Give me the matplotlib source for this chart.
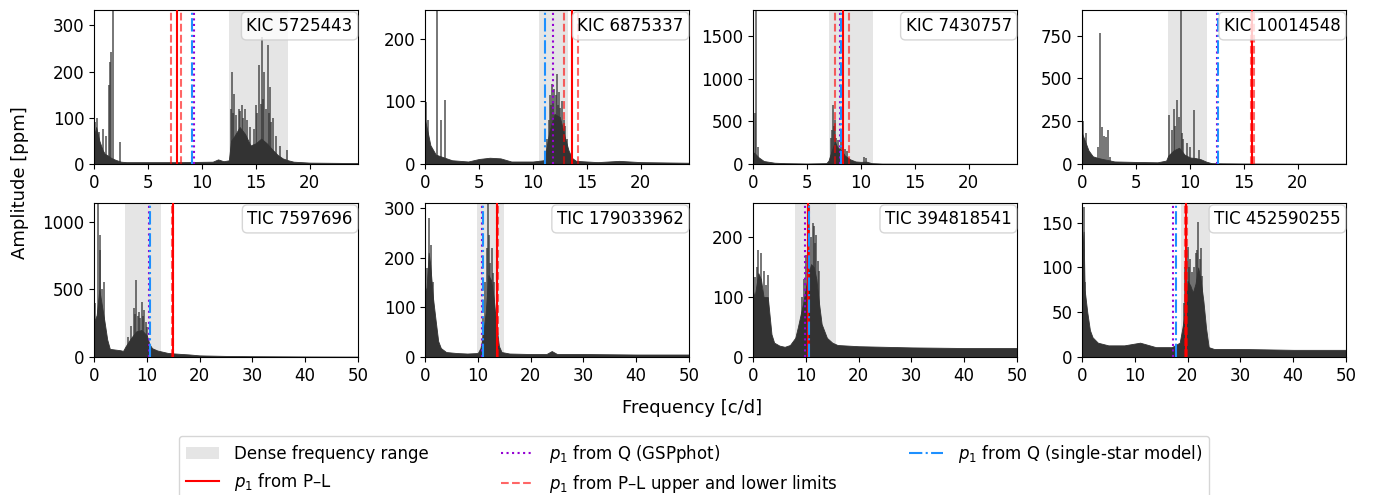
import matplotlib
matplotlib.use("Agg")
import matplotlib.pyplot as plt
from matplotlib.patches import Patch
from matplotlib.lines import Line2D

plt.rcParams['font.family'] = ['DejaVu Sans']

# ---------------- data ----------------
names = ["KIC 5725443", "KIC 6875337", "KIC 7430757", "KIC 10014548",
         "TIC 7597696", "TIC 179033962", "TIC 394818541", "TIC 452590255"]
xmax = [24.47, 24.47, 24.47, 24.47, 50, 50, 50, 50]
ymax = [333, 246, 1805, 900, 1140, 310, 257, 172]
yticks = [[0, 100, 200, 300], [0, 100, 200], [0, 500, 1000, 1500], [0, 250, 500, 750],
          [0, 500, 1000], [0, 100, 200, 300], [0, 100, 200], [0, 50, 100, 150]]
xticks_top = [0, 5, 10, 15, 20]
xticks_bot = [0, 10, 20, 30, 40, 50]

dense_lo = [12.5, 10.6, 7.04, 7.93, 5.9, 9.9, 8.0, 18.8]
dense_hi = [18.0, 13.3, 11.08, 11.6, 12.7, 14.9, 15.7, 24.3]
p1_pl = [7.69, 13.6, 8.36, 15.8, 14.9, 13.7, 10.5, 19.75]
p1_pl_lo = [7.13, 12.87, 7.6, 15.65, 14.8, 13.6, 10.4, 19.6]
p1_pl_hi = [8.02, 14.2, 8.86, 15.95, 15.0, 13.8, 10.6, 19.9]
p1_gsp = [9.29, 11.9, 8.05, 12.53, 10.5, 10.8, 9.9, 17.3]
p1_single = [9.04, 11.1, 8.15, 12.62, 10.6, 10.9, 10.7, 17.8]

# spectrum envelopes (frequency, amplitude) per panel
env_f = [
    [0, 0.2, 0.5, 0.8, 1.0, 1.3, 1.6, 2.0, 2.5, 3, 5, 8, 11, 11.5, 12, 12.5, 12.7, 13, 13.5, 14, 14.5,
     15, 15.5, 16, 16.5, 17, 17.5, 18, 18.5, 20, 24.47],
    [0, 0.2, 0.5, 1.0, 1.5, 2, 2.5, 4, 5, 6, 7, 8, 10, 11, 11.2, 11.5, 12, 12.5, 13, 13.3, 13.6,
     14, 16, 18, 20, 24.47],
    [0, 0.2, 0.5, 1, 2, 3, 5, 6.8, 7.0, 7.3, 7.6, 7.8, 8.0, 8.2, 8.5, 9, 9.5, 10, 10.5, 11, 12,
     15, 20, 24.47],
    [0, 0.3, 0.6, 1.0, 1.5, 2, 2.5, 3, 5, 7, 7.8, 8, 8.5, 9, 9.5, 10, 10.5, 11, 11.5, 12, 13,
     15, 20, 24.47],
    [0, 0.5, 1, 1.5, 2, 2.5, 3, 4, 5, 5.5, 6, 7, 8, 9, 10, 10.5, 11, 12, 14, 16, 18, 20, 25, 30,
     40, 50],
    [0, 0.3, 0.7, 1.0, 1.5, 2, 2.5, 3, 4, 6, 8, 10, 10.5, 11, 11.5, 12, 12.5, 13, 13.5, 14, 14.5,
     16, 20, 23, 24, 25, 30, 40, 50],
    [0, 0.3, 1, 1.5, 2, 2.8, 3.5, 4, 5, 6, 7, 8, 8.5, 9, 9.5, 10, 10.5, 11, 11.5, 12, 12.5, 13,
     14, 15, 16, 20, 30, 40, 50],
    [0, 0.3, 0.5, 1, 1.5, 2, 3, 5, 8, 11, 14, 17, 18.5, 19, 19.5, 20, 20.5, 21, 21.5, 22, 22.5,
     23, 23.5, 24, 25, 30, 40, 50],
]
env_a = [
    [60, 80, 50, 30, 22, 18, 13, 9, 5, 4, 4, 4, 5, 10, 6, 8, 50, 60, 80, 65, 40, 45, 55, 45,
     32, 20, 12, 8, 5, 3, 2],
    [70, 55, 30, 15, 12, 9, 6, 4, 8, 10, 9, 4, 4, 6, 20, 50, 80, 75, 40, 22, 10, 5, 3, 5, 3, 2],
    [140, 120, 80, 35, 15, 10, 6, 10, 40, 160, 260, 200, 180, 160, 100, 55, 30, 25, 28, 10, 5,
     4, 3, 2],
    [180, 130, 80, 45, 35, 28, 22, 15, 12, 10, 20, 50, 80, 95, 55, 38, 35, 28, 14, 5, 4,
     3, 2, 2],
    [260, 310, 500, 380, 260, 130, 60, 55, 50, 45, 80, 140, 190, 200, 160, 95, 65, 48, 30,
     24, 19, 12, 8, 6, 4, 3],
    [130, 140, 210, 185, 120, 75, 32, 18, 10, 8, 7, 8, 18, 45, 90, 165, 155, 120, 65, 22, 10,
     7, 6, 6, 12, 6, 6, 5, 5],
    [110, 100, 140, 130, 100, 100, 38, 24, 19, 17, 20, 32, 50, 70, 90, 115, 140, 155, 150,
     130, 90, 55, 32, 24, 20, 18, 16, 15, 15],
    [110, 140, 75, 50, 30, 22, 16, 13, 13, 16, 11, 11, 16, 32, 50, 85, 80, 72, 82, 100, 85,
     62, 32, 11, 9, 9, 8, 8],
]

# individual peaks (frequency, amplitude) per panel
peak_f = [
    [0.1, 0.3, 0.5, 0.8, 1.1, 1.35, 1.5, 1.6, 1.75, 2.4, 12.7, 12.8, 12.9, 13.0, 13.2, 13.4,
     13.55, 13.7, 13.85, 14.0, 14.2, 14.5, 14.8, 15.0, 15.15, 15.3, 15.45, 15.55, 15.7, 15.8,
     15.95, 16.1, 16.2, 16.3, 16.45, 16.6, 16.9, 17.2, 17.9],
    [0.1, 0.3, 1.08, 1.5, 1.9, 11.3, 11.45, 11.6, 11.7, 11.8, 11.9, 12.0, 12.1, 12.2, 12.3,
     12.4, 12.55, 12.7, 12.85, 13.0, 13.2],
    [0.15, 0.3, 0.5, 7.2, 7.3, 7.4, 7.5, 7.6, 7.7, 7.9, 8.2, 8.5, 8.7, 10.3, 10.5],
    [0.1, 0.4, 1.5, 1.67, 1.85, 2.0, 2.2, 2.4, 2.6, 8.1, 8.3, 8.5, 8.65, 8.8, 9.0, 9.17, 9.3,
     9.4, 9.7, 10.0, 10.4, 10.8],
    [0.2, 0.7, 1.1, 1.2, 1.5, 1.8, 6.5, 7.0, 7.5, 7.8, 8.0, 8.3, 8.5, 8.8, 9.0, 9.3, 9.5,
     9.8, 10.0],
    [0.3, 0.7, 1.2, 1.6, 11.0, 11.4, 11.8, 12.0, 12.2, 12.4, 12.6, 12.8, 13.0, 13.3],
    [0.3, 0.7, 1.0, 1.5, 2.0, 2.4, 2.8, 9.3, 9.7, 10.0, 10.4, 10.7, 11.0, 11.3, 11.5, 11.8,
     12.0, 12.3, 12.5],
    [0.3, 0.5, 19.3, 19.6, 20.0, 20.3, 20.5, 20.8, 21.2, 21.5, 21.8, 22.0, 22.3, 22.5, 22.8],
]
peak_a = [
    [90, 100, 70, 75, 60, 170, 221, 243, 400, 48, 120, 200, 110, 152, 105, 120, 115, 127,
     100, 120, 95, 80, 75, 127, 110, 214, 130, 275, 140, 200, 120, 257, 110, 167, 90, 100,
     60, 40, 30],
    [99, 70, 400, 70, 102, 40, 70, 110, 95, 128, 100, 120, 110, 144, 95, 115, 90, 100, 70, 60, 40],
    [600, 2000, 200, 300, 400, 686, 450, 510, 300, 280, 333, 176, 150, 78, 70],
    [250, 180, 98, 763, 215, 166, 157, 196, 39, 284, 200, 323, 220, 372, 274, 1000, 180,
     147, 120, 100, 313, 80],
    [400, 1200, 900, 790, 500, 557, 150, 230, 360, 320, 569, 300, 335, 290, 409, 300, 347,
     260, 224],
    [180, 280, 225, 150, 80, 150, 220, 400, 245, 190, 219, 170, 150, 90],
    [134, 150, 179, 173, 143, 120, 137, 100, 130, 170, 300, 254, 200, 223, 218, 190, 204,
     160, 143],
    [168, 84, 60, 100, 123, 100, 110, 95, 100, 116, 120, 151, 110, 122, 90],
]

# ---------------- layout ----------------
W, H = 1374, 495
fig = plt.figure(figsize=(W / 100, H / 100), dpi=100)
lefts = [94, 425, 753, 1082]
aw = 264
rows = [(10, 164), (203, 357)]

spec_color = "#333333"
for i in range(8):
    r, c = divmod(i, 4)
    top, bot = rows[r]
    ax = fig.add_axes([lefts[c] / W, 1 - bot / H, aw / W, (bot - top) / H])
    ax.axvspan(dense_lo[i], dense_hi[i], color="grey", alpha=0.2, lw=0, zorder=0)
    ax.fill_between(env_f[i], 0, env_a[i], color=spec_color, lw=0.6, zorder=1)
    ax.vlines(peak_f[i], 0, peak_a[i], color=spec_color, lw=1.1, alpha=0.85, zorder=1)
    ax.axvline(p1_pl_lo[i], color="red", ls="--", lw=1.5, alpha=0.6, zorder=3)
    ax.axvline(p1_pl_hi[i], color="red", ls="--", lw=1.5, alpha=0.6, zorder=3)
    ax.axvline(p1_pl[i], color="red", ls="-", lw=1.5, zorder=3)
    ax.axvline(p1_gsp[i], color="darkviolet", ls=":", lw=1.5, zorder=3)
    ax.axvline(p1_single[i], color="dodgerblue", ls="-.", lw=1.5, zorder=3)
    ax.set_xlim(0, xmax[i])
    ax.set_ylim(0, ymax[i])
    ax.set_xticks(xticks_top if r == 0 else xticks_bot)
    ax.set_yticks(yticks[i])
    ax.tick_params(labelsize=12)
    ax.text(0.98, 0.955, names[i], transform=ax.transAxes, ha="right", va="top",
            fontsize=12, zorder=5,
            bbox=dict(boxstyle="round,pad=0.3", fc="white", ec="#cccccc", alpha=0.8))

fig.text(692 / W, 1 - 408 / H, "Frequency [c/d]", ha="center", va="center", fontsize=13)
fig.text(20 / W, 1 - 183 / H, "Amplitude [ppm]", ha="center", va="center",
         rotation=90, fontsize=13)

handles = [
    Patch(facecolor="grey", alpha=0.2, label="Dense frequency range"),
    Line2D([], [], color="red", lw=1.5, label=r"$p_1$ from P–L"),
    Line2D([], [], color="darkviolet", ls=":", lw=1.5, label=r"$p_1$ from Q (GSPphot)"),
    Line2D([], [], color="red", ls="--", alpha=0.6, lw=1.5,
           label=r"$p_1$ from P–L upper and lower limits"),
    Line2D([], [], color="dodgerblue", ls="-.", lw=1.5, label=r"$p_1$ from Q (single-star model)"),
]
fig.legend(handles=handles, loc="upper center", bbox_to_anchor=(694 / W, 1 - 436 / H),
           ncol=3, fontsize=12, frameon=True, borderaxespad=0, columnspacing=4.3,
           handlelength=2.0, handletextpad=0.9)

fig.savefig("out.png", dpi=100)
